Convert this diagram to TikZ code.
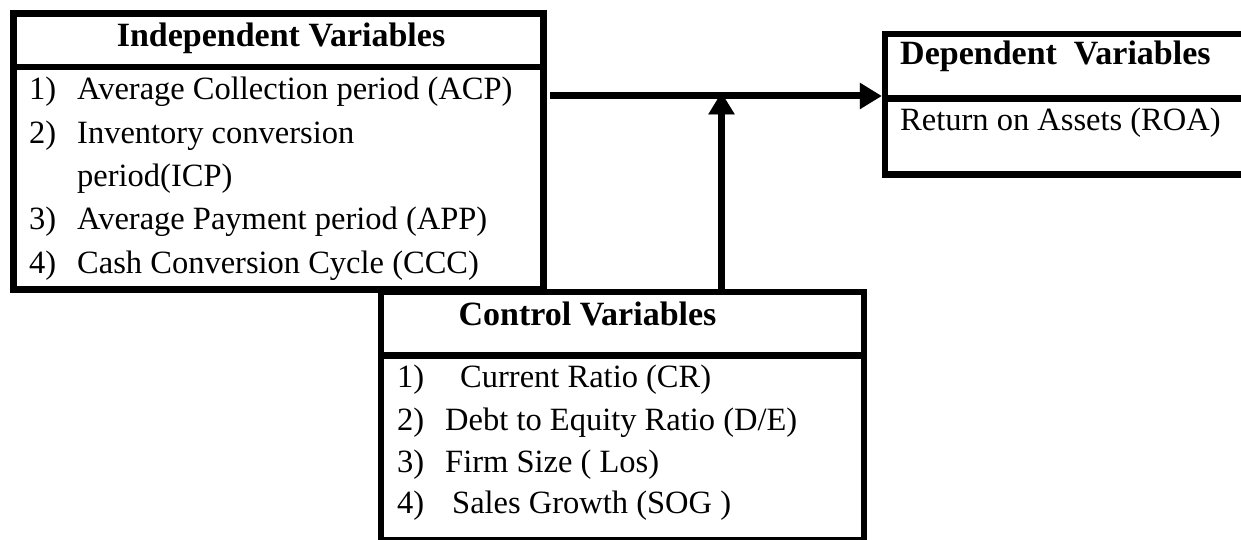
\documentclass[tikz,border=0pt]{standalone}
\usepackage{fontspec}
\setmainfont{Liberation Serif}
\usetikzlibrary{arrows.meta}
\begin{document}
\begin{tikzpicture}[x=1pt,y=-1pt,
  box/.style={draw, line width=6.5pt, rectangle, inner sep=0pt, fill=none},
  rule/.style={line width=6.5pt},
  arr/.style={line width=7pt, -{Triangle[length=22pt,width=25pt]}},
  shade/.style={arr, draw=black!38, fill=black!38, xshift=1.5pt, yshift=-3.5pt},
  txt/.style={font=\fontsize{32.5}{39}\selectfont, inner sep=0pt, anchor=base west},
  hdr/.style={font=\fontsize{34}{40}\selectfont\bfseries, inner sep=0pt, anchor=base}]
\useasboundingbox (0,0) rectangle (1241,540);
\clip (0,0) rectangle (1241,540);
% boxes
\node[box, minimum width=530pt, minimum height=276pt] (ind) at (278.5,151.5) {};
\node[box, minimum width=375pt, minimum height=140.5pt] (dep) at (1072.5,104.25) {};
\node[box, minimum width=483pt, minimum height=248.5pt] (ctl) at (622.5,416.25) {};
\coordinate (sepI) at (0,67);
\coordinate (sepD) at (0,98.5);
\coordinate (sepC) at (0,355.5);
\draw[rule] (ind.west |- sepI) -- (ind.east |- sepI);
\draw[rule] (dep.west |- sepD) -- (dep.east |- sepD);
\draw[rule] (ctl.west |- sepC) -- (ctl.east |- sepC);
% arrows
\coordinate (hy) at (0,96);
\coordinate (vtop) at (721.5,92.5);
\draw[shade] ([xshift=3.25pt]ind.east |- hy) -- (dep.west |- hy);
\draw[shade] ([yshift=-4pt]ctl.north -| vtop) -- (vtop);
\draw[arr] ([xshift=3.25pt]ind.east |- hy) -- (dep.west |- hy);
\draw[arr] ([yshift=-4pt]ctl.north -| vtop) -- (vtop);
% independent texts
\node[hdr] (indh) at (281,47) {Independent Variables};
\node[txt] (in1) at (29,100) {1)};
\node[txt] (it1) at (77,100) {Average Collection period (ACP)};
\node[txt] (in2) at (29,143.3) {2)};
\node[txt] (it2) at (77,143.3) {Inventory conversion};
\node[txt] (it2b) at (77,186.6) {period(ICP)};
\node[txt] (in3) at (29,229.9) {3)};
\node[txt] (it3) at (77,229.9) {Average Payment period (APP)};
\node[txt] (in4) at (29,273.2) {4)};
\node[txt] (it4) at (77,273.2) {Cash Conversion Cycle (CCC)};
% dependent texts
\node[hdr, anchor=base west] (deph) at (900,65) {Dependent~~Variables};
\node[txt] (dt1) at (900,131) {Return on Assets (ROA)};
% control texts
\node[hdr] (ctlh) at (587.5,325) {Control Variables};
\node[txt] (cn1) at (397,387) {1)};
\node[txt] (ct1) at (460,387) {Current Ratio (CR)};
\node[txt] (cn2) at (397,430) {2)};
\node[txt] (ct2) at (445,430) {Debt to Equity Ratio (D/E)};
\node[txt] (cn3) at (397,472) {3)};
\node[txt] (ct3) at (445,472) {Firm Size ( Los)};
\node[txt] (cn4) at (397,513) {4)};
\node[txt] (ct4) at (452,513) {Sales Growth (SOG )};
\end{tikzpicture}
\end{document}
